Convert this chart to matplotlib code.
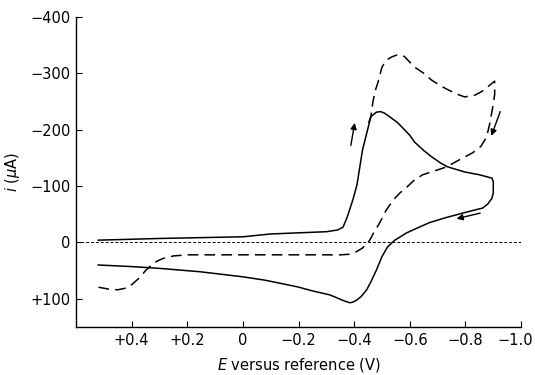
import matplotlib
matplotlib.use("Agg")
import matplotlib.pyplot as plt
import matplotlib.transforms as mtransforms

# ---- data (E in V, i in uA; negative i plotted upward) ----
E_solid = [0.52, 0.30, 0.10, 0.0, -0.10, -0.20, -0.30, -0.34, -0.36, -0.375,
           -0.395, -0.41, -0.43, -0.46, -0.48, -0.495, -0.51, -0.53, -0.557, -0.60,
           -0.617, -0.65, -0.678, -0.71, -0.736, -0.77, -0.797, -0.85, -0.88, -0.895,
           -0.90, -0.90, -0.895, -0.88, -0.862, -0.83, -0.79, -0.73, -0.67, -0.62,
           -0.589, -0.546, -0.52, -0.50, -0.48, -0.46, -0.445, -0.425, -0.41, -0.395,
           -0.384, -0.36, -0.337, -0.312, -0.25, -0.198, -0.08, 0.0, 0.154, 0.30,
           0.395, 0.52]
i_solid = [-4, -7, -9, -10, -15, -17, -19, -22, -27, -45,
           -75, -102, -164, -223, -231, -232, -229, -222, -212, -190,
           -178, -163, -152, -141, -134, -129, -125, -120, -116, -114,
           -108, -88, -78, -68, -61, -57, -52, -44, -35, -24,
           -17, -4, 8, 25, 49, 70, 84, 96, 102, 106,
           107, 103, 98, 93, 86, 79, 67, 61, 52, 46,
           43, 40]

E_dash = [-0.452, -0.46, -0.467, -0.475, -0.485, -0.50, -0.515, -0.535, -0.557, -0.58,
          -0.617, -0.65, -0.678, -0.71, -0.736, -0.77, -0.797, -0.833, -0.86, -0.88,
          -0.895, -0.905, -0.905, -0.898, -0.888, -0.876, -0.855, -0.826, -0.78, -0.732,
          -0.69, -0.646, -0.615, -0.589, -0.565, -0.54, -0.515, -0.492, -0.47, -0.456,
          -0.44, -0.43, -0.41, -0.384, -0.35, -0.2, 0.0, 0.2, 0.25, 0.29,
          0.32, 0.35, 0.37, 0.40, 0.42, 0.45, 0.48, 0.524]
i_dash = [-212, -223, -248, -268, -283, -311, -323, -329, -333, -330,
          -311, -300, -288, -278, -271, -263, -258, -261, -268, -276,
          -282, -286, -262, -240, -212, -187, -170, -159, -147, -134,
          -127, -120, -110, -98, -88, -75, -57, -35, -17, -4,
          5, 10, 16, 21, 22, 22, 22, 22, 24, 29,
          36, 50, 62, 75, 81, 84, 83, 79]

x_ticks = [0.4, 0.2, 0.0, -0.2, -0.4, -0.6, -0.8, -1.0]
x_ticklabels = ["+0.4", "+0.2", "0", "\u22120.2", "\u22120.4", "\u22120.6", "\u22120.8", "\u22121.0"]
y_ticks = [-400, -300, -200, -100, 0, 100]
y_ticklabels = ["\u2212400", "\u2212300", "\u2212200", "\u2212100", "0", "+100"]

# arrows: (tail E, tail i, head E, head i)
arrows = [(-0.388, -172, -0.402, -212),
          (-0.925, -232, -0.893, -189),
          (-0.853, -52, -0.768, -42)]

plt.rcParams['font.family'] = ['DejaVu Sans']
plt.rcParams['mathtext.fontset'] = 'dejavusans'

fig = plt.figure(figsize=(5.35, 3.75), dpi=100)
ax = fig.add_axes([0.142, 0.128, 0.832, 0.827])

ax.axhline(0, color='black', lw=0.7, linestyle=(0, (3, 2)), zorder=1)
ax.plot(E_solid, i_solid, color='black', lw=1.1, solid_joinstyle='round')
ax.plot(E_dash, i_dash, color='black', lw=1.1, linestyle=(0, (7, 4)))

for (x0, y0, x1, y1) in arrows:
    ax.annotate("", xy=(x1, y1), xytext=(x0, y0),
                arrowprops=dict(arrowstyle='-|>', color='black', lw=1.0,
                                mutation_scale=9, shrinkA=0, shrinkB=0))

ax.set_xlim(0.6, -1.0)
ax.set_ylim(150, -400)
ax.set_xticks(x_ticks)
ax.set_xticklabels(x_ticklabels)
ax.set_yticks(y_ticks)
ax.set_yticklabels(y_ticklabels)
ax.tick_params(direction='in', length=4, width=0.8, labelsize=10.5, pad=4)

# nudge the last x tick label so it stays inside the figure
last = ax.get_xticklabels()[-1]
last.set_transform(last.get_transform() +
                   mtransforms.ScaledTranslation(-4 / 72, 0, fig.dpi_scale_trans))

for s in ['top', 'right']:
    ax.spines[s].set_visible(False)
for s in ['left', 'bottom']:
    ax.spines[s].set_linewidth(1.0)

ax.set_xlabel(r"$\it{E}$ versus reference (V)", fontsize=10.5, labelpad=6)
ax.set_ylabel(r"$\it{i}$ ($\mu$A)", fontsize=10.5, labelpad=6)

fig.savefig("out.png", dpi=100)
